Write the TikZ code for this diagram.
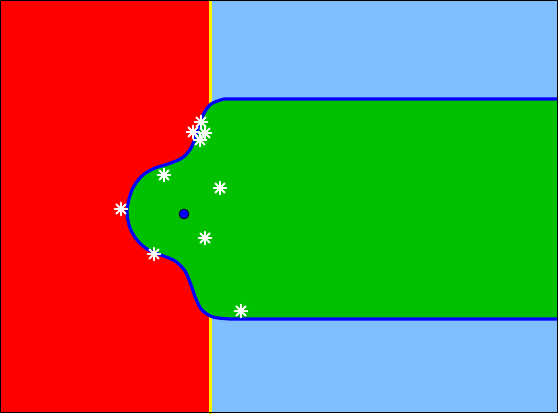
\documentclass[tikz,border=0pt]{standalone}
\usepackage{amsfonts,amsmath,amssymb}
\usepackage{xcolor}
\usetikzlibrary{arrows.meta}
\definecolor{regred}{RGB}{255,0,0}
\definecolor{regsky}{RGB}{128,191,255}
\definecolor{reggreen}{RGB}{0,192,0}
\definecolor{regblue}{RGB}{0,0,255}
\tikzset{
  every picture/.style={line join=round, line cap=round, >=Stealth},
  aster/.style={circle, inner sep=0pt, minimum size=0.32cm,
    path picture={\foreach \a in {0,45,90,135}
      \draw[white, line width=1.1pt] (path picture bounding box.center)
        +(\a:0.13cm) -- +(\a+180:0.13cm);}},
  pole/.style={circle, draw=black, fill=regblue, inner sep=0pt, minimum size=0.2cm, line width=0.4pt},
}

\begin{document}
\begin{tikzpicture}[x=0.02cm,y=-0.02cm]
\useasboundingbox (0,0) rectangle (558,413);
\fill[regred](0,0)rectangle(210,413);
\fill[regsky](210,0)rectangle(558,413);
\draw[yellow,line width=2.2pt](210.5,0)--(210.5,413);
% basin of the root
\path[fill=reggreen,draw=regblue,line width=1.8pt]
(570,99)--(224,99)
--plot[smooth,tension=0.55] coordinates{(224,99)(211,104)(203,115)(197,132)(191,148)(182,158)(168,164)(155,168)(143,175)(134,186)(129,199)(127,213)(130,228)(137,240)(147,249)(161,255)(175,261)(185,271)(191,285)(196,299)(202,310)(213,317)(230,319)}
--(570,319)--cycle;
\draw(184,214)node[pole](z0){};
\draw(201,122)node[aster](s1){}
(193,132)node[aster](s2){}
(205,133)node[aster](s3){}
(200,140)node[aster](s4){}
(164,175)node[aster](s5){}
(220,188)node[aster](s6){}
(121,209)node[aster](s7){}
(205,238)node[aster](s8){}
(154,254)node[aster](s9){}
(241,311)node[aster](s10){};
\draw[black,line width=0.8pt](0.5,0.5)rectangle(557.5,412.5);
\end{tikzpicture}
\end{document}
